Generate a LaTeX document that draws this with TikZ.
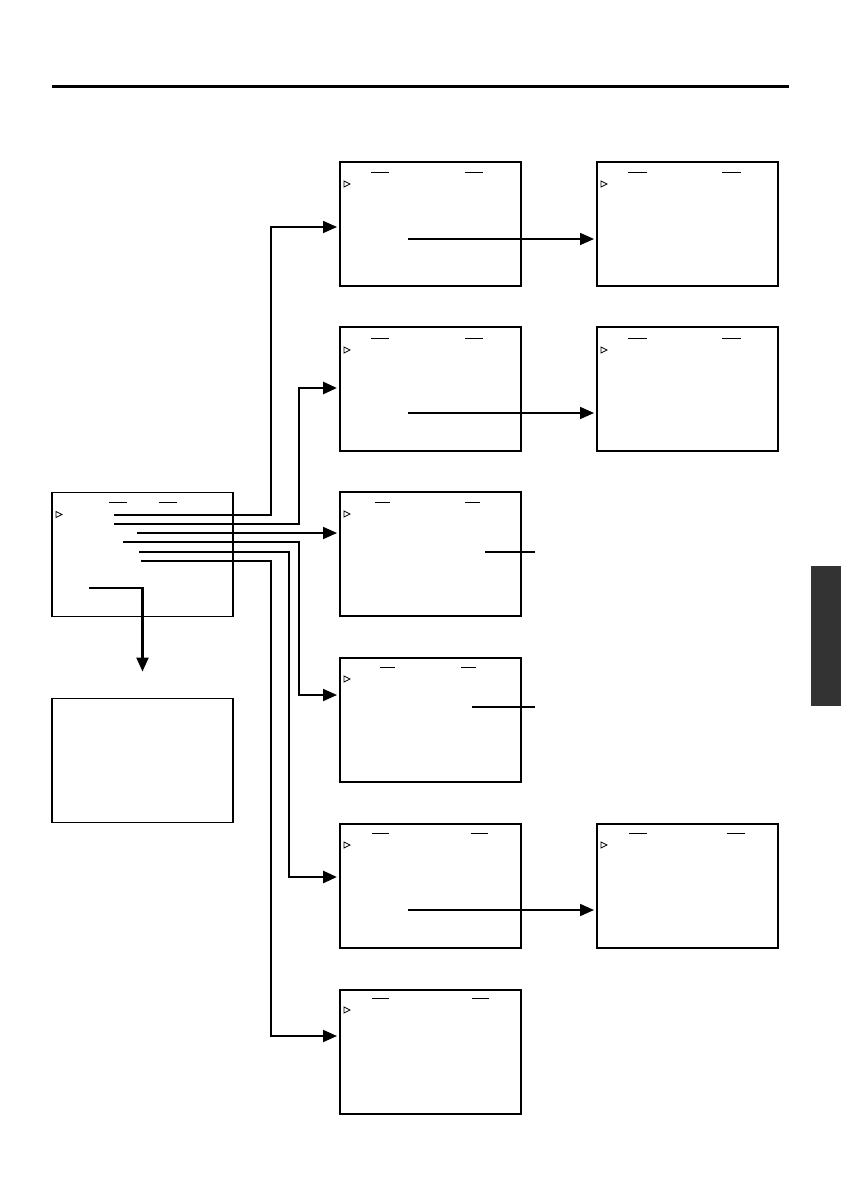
\documentclass[tikz,border=0pt]{standalone}
\usepackage{tikz}
\usetikzlibrary{positioning,arrows.meta}
\definecolor{tabgray}{RGB}{51,51,51}
\tikzset{
  screen/.style   = {rectangle, draw, line width=1.6pt, minimum width=181pt,
                     minimum height=124pt, inner sep=0pt, outer sep=0pt},
  link/.style     = {line width=1.8pt, -{Triangle[length=14pt,width=12pt]},
                     shorten >=3pt},
  boldlink/.style = {link, line width=2.8pt},
  leader/.style   = {line width=1.1pt},
  hdash/.style    = {line width=0.9pt},
  cursor/.style   = {line width=0.7pt}
}

\begin{document}
\begin{tikzpicture}[x=1pt, y=-1pt]
  \useasboundingbox (0,0) rectangle (841,1191);
  % Header rule and thumb tab
  \draw[line width=3pt] (52,86) -- (789,86);
  \fill[tabgray] (811,566) rectangle (841,706);
  % Left column
  \node[screen] (main)   at (142.5,554.5) {};
  \node[screen] (result) at (142.5,760.5) {};
  % Middle column
  \node[screen] (scrA) at (430.5,224) {};
  \node[screen, below=41pt of scrA] (scrB) {};
  \node[screen, below=41pt of scrB] (scrC) {};
  \node[screen, below=42pt of scrC] (scrD) {};
  \node[screen, below=42pt of scrD] (scrE) {};
  \node[screen, below=42pt of scrE] (scrF) {};
  % Right column
  \node[screen, right=76pt of scrA] (scrAsub) {};
  \node[screen, right=76pt of scrB] (scrBsub) {};
  \node[screen, right=76pt of scrE] (scrEsub) {};
  % Header dashes and cursor marks
  \foreach \n/\a/\b/\l/\d in {main/57/107/18/10, scrA/31/125/18/10,
      scrB/31/125/18/11, scrC/35/125/15/10, scrD/40/121/15/9,
      scrE/32/131/17/9, scrF/32/132/17/8, scrAsub/31/125/19/10,
      scrBsub/31/125/19/11, scrEsub/32/130/18/9} {
    \draw[hdash] (\n.north west) ++(\a,\d) -- ++(\l,0);
    \draw[hdash] (\n.north west) ++(\b,\d) -- ++(\l,0);
    \draw[cursor] (\n.north west) ++(4,\d+9) -- ++(6,3) -- ++(-6,3) -- cycle;
  }
  % Menu item ends
  \coordinate (m1) at (114,515);
  \coordinate (m2) at (114,524);
  \coordinate (m3) at (137,533);
  \coordinate (m4) at (123,542);
  \coordinate (m5) at (139,552);
  \coordinate (m6) at (141,561);
  \coordinate (m7) at (89,588);
  % Bends
  \coordinate (bA) at (271,227);
  \coordinate (bB) at (299,388);
  \coordinate (bD) at (299,695);
  \coordinate (bE) at (289,877);
  \coordinate (bF) at (271,1036);
  % Connectors from the main screen
  \draw[link]     (m1) -| (bA) -- (scrA.west |- bA);
  \draw[boldlink] (m2) -| (bB) -- (scrB.west |- bB);
  \draw[link]     (m3) -- (scrC.west |- m3);
  \draw[link]     (m4) -| (bD) -- (scrD.west |- bD);
  \draw[boldlink] (m5) -| (bE) -- (scrE.west |- bE);
  \draw[link]     (m6) -| (bF) -- (scrF.west |- bF);
  \draw[link, line width=2.3pt, shorten >=27pt] (m7) -| (result.north);
  % Connectors to sub screens
  \coordinate (sA) at (408,239);
  \coordinate (sB) at (408,413);
  \coordinate (sE) at (408,910);
  \draw[link] (sA) -- (scrAsub.west |- sA);
  \draw[link] (sB) -- (scrBsub.west |- sB);
  \draw[link] (sE) -- (scrEsub.west |- sE);
  % Leader lines
  \coordinate (lC1) at (485,552); \coordinate (lC2) at (535,552);
  \coordinate (lD1) at (472,707); \coordinate (lD2) at (535,707);
  \draw[leader] (lC1) -- (lC2);
  \draw[leader] (lD1) -- (lD2);
\end{tikzpicture}
\end{document}
